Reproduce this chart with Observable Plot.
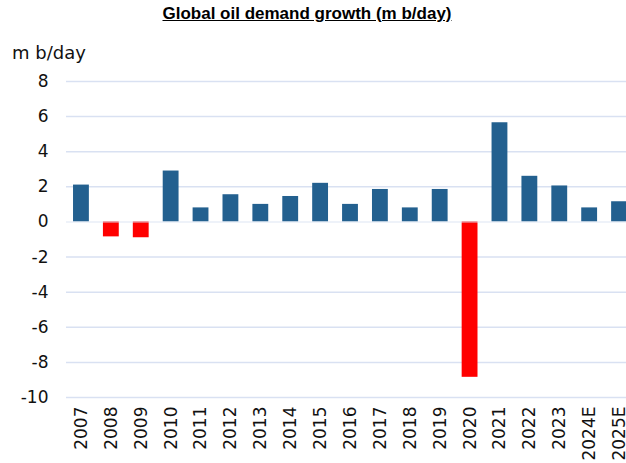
<!DOCTYPE html>
<html>
<head>
<meta charset="utf-8">
<script src="https://cdn.jsdelivr.net/npm/d3@7"></script>
<script src="https://cdn.jsdelivr.net/npm/@observablehq/plot@0.6"></script>
<style>
  html, body { margin: 0; padding: 0; background: #fff; }
  #wrap { position: relative; width: 626px; height: 463px; overflow: hidden; }
  #title { position: absolute; left: 0; width: 614px; top: 4px; text-align: center;
    font-family: "Liberation Sans", Arial, sans-serif; font-weight: bold; font-size: 17px;
    text-decoration: underline; color: #000; }
  #unit { position: absolute; left: 12px; top: 42px; font-family: "DejaVu Sans", sans-serif;
    font-size: 18px; color: #111; }
  #chart { position: absolute; left: 0; top: 0; }
</style>
</head>
<body>
<div id="wrap">
  <div id="chart"></div>
  <div id="title">Global oil demand growth (m b/day)</div>
  <div id="unit">m b/day</div>
</div>
<script>
const years = ["2007","2008","2009","2010","2011","2012","2013","2014","2015","2016","2017","2018","2019","2020","2021","2022","2023","2024E","2025E"];
const growth = [2.1, -0.85, -0.9, 2.9, 0.8, 1.55, 1.0, 1.45, 2.2, 1.0, 1.85, 0.8, 1.85, -8.85, 5.65, 2.6, 2.05, 0.8, 1.15];
const yTicks = [8, 6, 4, 2, 0, -2, -4, -6, -8, -10];

const data = years.map((y, i) => ({year: y, value: growth[i]}));

const chart = Plot.plot({
  width: 626,
  height: 463,
  marginTop: 81,
  marginBottom: 66,
  marginLeft: 66,
  marginRight: 0,
  style: {fontFamily: "'DejaVu Sans', sans-serif", background: "transparent", overflow: "hidden"},
  x: {domain: years, range: [66, 634], paddingInner: 0.47, paddingOuter: 0.235, round: false, label: null},
  y: {domain: [-10, 8], label: null},
  marks: [
    Plot.ruleY(yTicks.filter(d => d !== 0), {stroke: "#D9E1F2", strokeWidth: 1.5}),
    Plot.barY(data, {x: "year", y: "value", fill: d => d.value < 0 ? "#FF0000" : "#23608F"}),
    Plot.ruleY([0], {stroke: "#D9E1F2", strokeWidth: 1.5, strokeOpacity: 0.6}),
    Plot.axisY({ticks: yTicks, tickSize: 0, tickPadding: 18, fontSize: 17, fill: "#111", tickFormat: d => String(d).replace("−", "-")}),
    Plot.axisX({tickSize: 0, tickPadding: 9, tickRotate: -90, fontSize: 17, fill: "#111"})
  ]
});
document.getElementById("chart").appendChild(chart);
</script>
</body>
</html>
